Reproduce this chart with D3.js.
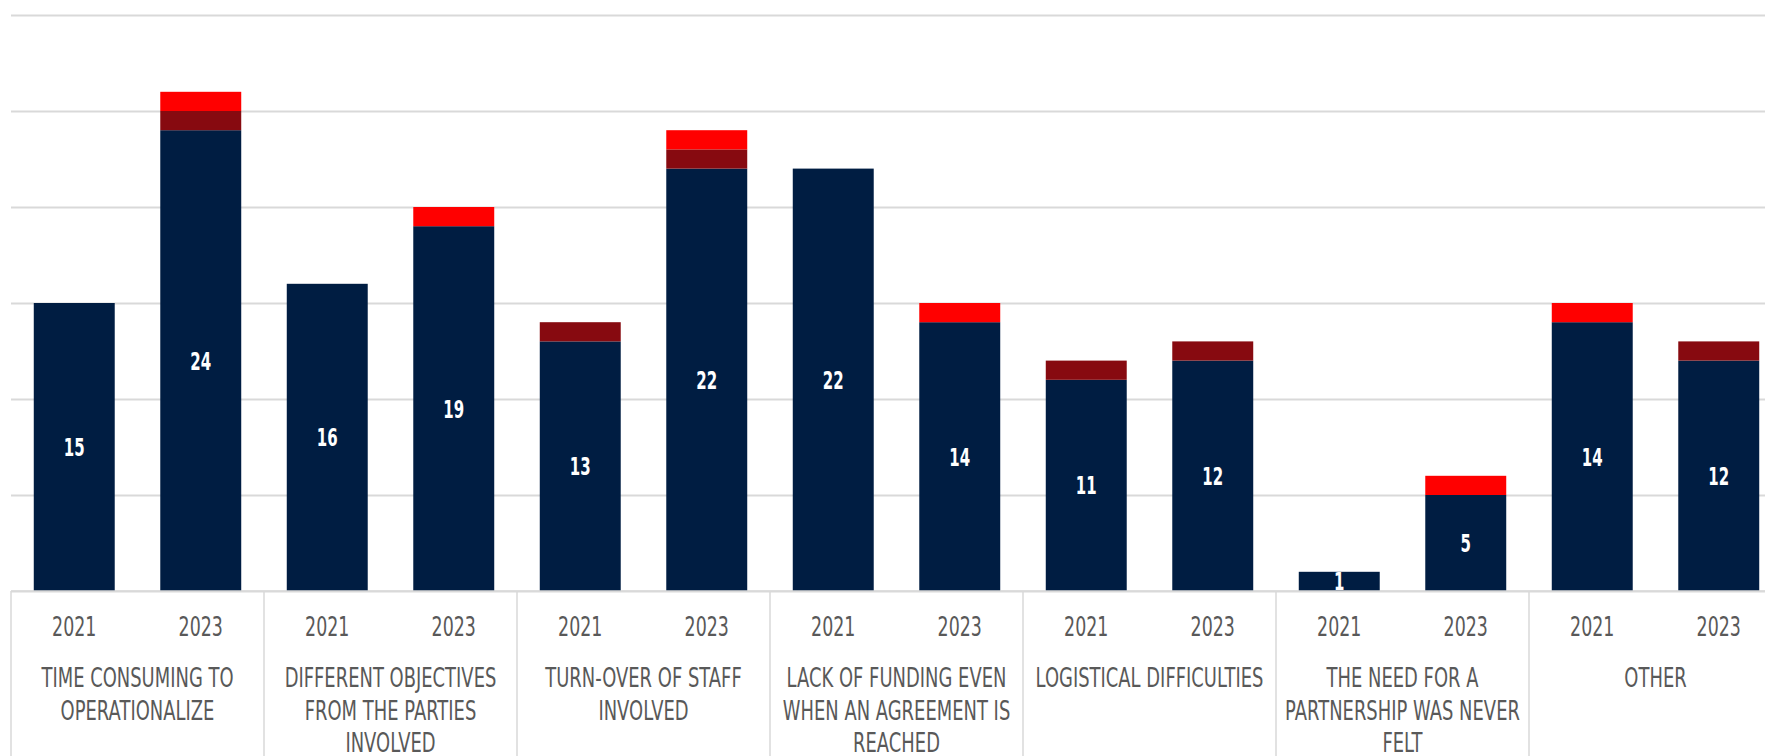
<!DOCTYPE html>
<html>
<head>
<meta charset="utf-8">
<script src="https://cdn.jsdelivr.net/npm/d3@7"></script>
<style>
  html, body { margin: 0; padding: 0; background: #ffffff; overflow: hidden; }
  svg { display: block; }
</style>
</head>
<body>
<svg id="chart" width="1765" height="756"></svg>
<script>
// Obstacles to partnerships, answers per survey year
const categories = [
  "TIME CONSUMING TO OPERATIONALIZE",
  "DIFFERENT OBJECTIVES FROM THE PARTIES INVOLVED",
  "TURN-OVER OF STAFF INVOLVED",
  "LACK OF FUNDING EVEN WHEN AN AGREEMENT IS REACHED",
  "LOGISTICAL DIFFICULTIES",
  "THE NEED FOR A PARTNERSHIP WAS NEVER FELT",
  "OTHER"
];
const years = ["2021", "2023"];

// One value per category, for 2021 then 2023
const primary2021   = [15, 16, 13, 22, 11, 1, 14];
const primary2023   = [24, 19, 22, 14, 12, 5, 12];
const secondary2021 = [0, 0, 1, 0, 1, 0, 0];
const secondary2023 = [1, 0, 1, 0, 1, 0, 1];
const tertiary2021  = [0, 0, 0, 0, 0, 0, 1];
const tertiary2023  = [1, 1, 1, 1, 0, 1, 0];

const yTicks = [0, 5, 10, 15, 20, 25, 30];

const seriesKeys = ["primary", "secondary", "tertiary"];
const colors = { primary: "#001d42", secondary: "#870a10", tertiary: "#ff0000" };

// Flatten to one row per bar
const rows = [];
categories.forEach((c, i) => {
  rows.push({ id: c + "|2021", cat: c, year: years[0],
    primary: primary2021[i], secondary: secondary2021[i], tertiary: tertiary2021[i] });
  rows.push({ id: c + "|2023", cat: c, year: years[1],
    primary: primary2023[i], secondary: secondary2023[i], tertiary: tertiary2023[i] });
});

const svg = d3.select("#chart");
const W = 1765, H = 756;
const plotLeft = 11, plotRight = 1782, baseline = 591, plotTop = 15;

const x = d3.scaleBand().domain(rows.map(d => d.id)).range([plotLeft, plotRight])
  .paddingInner(0.36).paddingOuter(0.18);
const xCat = d3.scaleBand().domain(categories).range([plotLeft, plotRight]);
const y = d3.scaleLinear().domain([0, 30]).range([baseline, plotTop]);

// Tall, narrow lettering: a regular face squeezed horizontally
const font = "'DejaVu Sans', sans-serif";
const squeezeCat = 0.69;
const squeezeYear = 0.67;

// Gridlines
svg.append("g")
  .attr("transform", `translate(${plotLeft},0)`)
  .call(d3.axisLeft(y).tickValues(yTicks).tickSize(-(W - plotLeft)).tickFormat(""))
  .call(g => g.select(".domain").remove())
  .call(g => g.selectAll(".tick line").attr("stroke", "#d9d9d9").attr("stroke-width", 2));

// Stacked bars
const stack = d3.stack().keys(seriesKeys)(rows);

svg.append("defs").append("clipPath").attr("id", "plot")
  .append("rect").attr("x", 0).attr("y", 0).attr("width", W).attr("height", baseline);

const plot = svg.append("g").attr("clip-path", "url(#plot)");

plot.selectAll("g.layer").data(stack).join("g")
  .attr("class", "layer")
  .attr("fill", s => colors[s.key])
  .selectAll("rect").data(s => s.filter(d => d[1] > d[0])).join("rect")
  .attr("x", d => x(d.data.id))
  .attr("width", x.bandwidth())
  .attr("y", d => y(d[1]))
  .attr("height", d => y(d[0]) - y(d[1]));

// Value labels on the primary segment
plot.selectAll("g.val").data(rows).join("g")
  .attr("class", "val")
  .attr("transform", d => `translate(${x(d.id) + x.bandwidth() / 2},${y(d.primary / 2)}) scale(0.6,1)`)
  .append("text")
  .attr("dy", "0.36em")
  .attr("text-anchor", "middle")
  .attr("fill", "#ffffff")
  .attr("font-family", font)
  .attr("font-weight", "bold")
  .attr("font-size", 25)
  .text(d => d.primary);

// Category axis: baseline and separators
const axis = svg.append("g");
axis.append("line")
  .attr("x1", plotLeft).attr("x2", W).attr("y1", baseline).attr("y2", baseline)
  .attr("stroke", "#d9d9d9").attr("stroke-width", 1.5);
axis.selectAll("line.sep").data(categories).join("line")
  .attr("class", "sep")
  .attr("x1", d => xCat(d)).attr("x2", d => xCat(d))
  .attr("y1", baseline).attr("y2", H)
  .attr("stroke", "#d9d9d9").attr("stroke-width", 1.5);

// Year labels
axis.selectAll("g.year").data(rows).join("g")
  .attr("class", "year")
  .attr("transform", d => `translate(${x(d.id) + x.bandwidth() / 2},627) scale(${squeezeYear},1)`)
  .append("text")
  .attr("dy", "0.36em")
  .attr("text-anchor", "middle")
  .attr("fill", "#595959")
  .attr("font-family", font)
  .attr("font-size", 26)
  .text(d => d.year);

// Category labels, wrapped to the width of each group
const catText = axis.selectAll("g.cat").data(categories).join("g")
  .attr("class", "cat")
  .attr("transform", c => `translate(${xCat(c) + xCat.bandwidth() / 2},0) scale(${squeezeCat},1)`)
  .append("text")
  .attr("text-anchor", "middle")
  .attr("fill", "#595959")
  .attr("font-family", font)
  .attr("font-size", 26);

catText.each(function (c) {
  const t = d3.select(this);
  const maxW = 244 / squeezeCat;
  const words = c.split(" ");
  const lines = [];
  let line = [];
  const probe = t.append("tspan");
  words.forEach(w => {
    const trial = line.concat(w).join(" ");
    probe.text(trial);
    if (probe.node().getComputedTextLength() > maxW && line.length) {
      lines.push(line.join(" "));
      line = [w];
    } else {
      line.push(w);
    }
  });
  lines.push(line.join(" "));
  probe.remove();
  lines.forEach((l, i) => {
    t.append("tspan").attr("x", 0).attr("y", 678 + i * 32.5).attr("dy", "0.36em").text(l);
  });
});
</script>
</body>
</html>
